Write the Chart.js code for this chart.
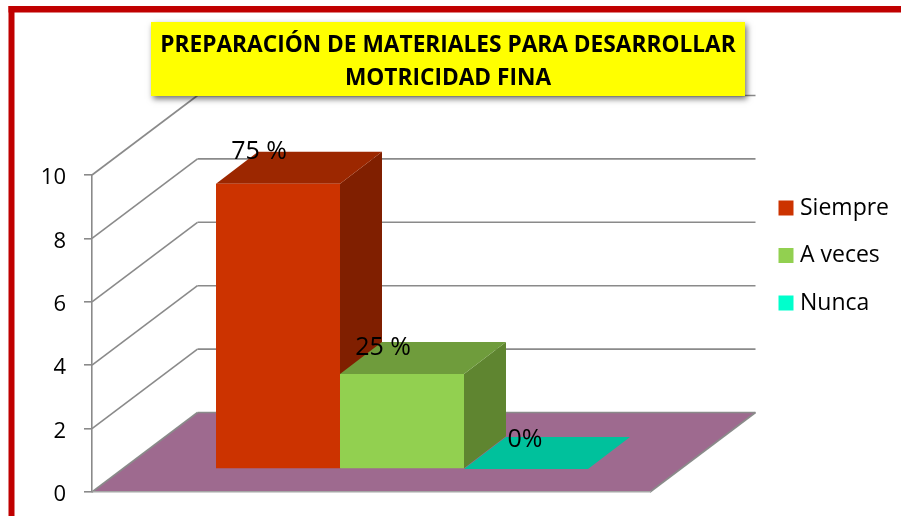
<!DOCTYPE html>
<html>
<head>
<meta charset="utf-8">
<style>html,body{margin:0;padding:0;background:#fff}canvas{display:block}</style>
<script src="https://cdn.jsdelivr.net/npm/chart.js@4"></script>
</head>
<body>
<canvas id="c" width="901" height="516"></canvas>
<script>
const categories = [''];
const seriesNames = ['Siempre', 'A veces', 'Nunca'];
const siempre = [9];
const aVeces = [3];
const nunca = [0];
const percentLabels = ['75 %', '25 %', '0%'];
const titleLines = ['PREPARACIÓN DE MATERIALES PARA DESARROLLAR', 'MOTRICIDAD FINA'];
const yTicks = [0, 2, 4, 6, 8, 10];

const FONT = '"Open Sans"';
const GRID = '#8a8a8a';
const frontColors = ['#CC3300', '#92D050', '#00FFCC'];
const topColors = ['#9C2700', '#6F9C3C', '#00C19C'];
const sideColors = ['#801F00', '#5F8530', '#00C19C'];
const wall = {dx: 105.5, dy: -79.5};
const barShift = {dx: 31, dy: -23};
const barDepth = {dx: 42, dy: -32};
const labelOffsets = [{x: -19, y: -32}, {x: -19, y: -26}, {x: -1, y: -29}];

function poly(ctx, pts, fill) {
  ctx.beginPath();
  pts.forEach((p, i) => i ? ctx.lineTo(p[0], p[1]) : ctx.moveTo(p[0], p[1]));
  ctx.closePath();
  ctx.fillStyle = fill;
  ctx.fill();
}
function line(ctx, x1, y1, x2, y2) {
  ctx.beginPath(); ctx.moveTo(x1, y1); ctx.lineTo(x2, y2); ctx.stroke();
}

const scene = {
  id: 'scene',
  beforeLayout(chart) {
    const lg = chart.legend;
    if (!lg._fitPatched) {
      const fit = lg.fit;
      lg.fit = function () { fit.call(this); this.width = 251; };
      lg._fitPatched = true;
    }
  },
  afterLayout(chart) {
    const lg = chart.legend;
    const w = lg.width, h = lg.height;
    lg.left = 759; lg.right = 759 + w;
    lg.top = 172; lg.bottom = 172 + h;
    chart.titleBlock.right = 896;
  },
  beforeDraw(chart) {
    const {ctx, chartArea: a, scales: {y}} = chart;
    ctx.save();
    ctx.fillStyle = '#fff';
    ctx.fillRect(0, 0, chart.width, chart.height);
    // outer frame
    ctx.fillStyle = '#C00000';
    ctx.fillRect(8.5, 6, chart.width, 6.5);
    ctx.fillRect(8.5, 6, 6, chart.height);
    // floor
    const y0 = y.getPixelForValue(0);
    poly(ctx, [[a.left, y0], [a.right, y0], [a.right + wall.dx, y0 + wall.dy], [a.left + wall.dx, y0 + wall.dy]], '#9E6A8F');
    // side wall + back wall grid lines
    ctx.strokeStyle = GRID;
    ctx.lineWidth = 1.6;
    yTicks.forEach(v => {
      const py = y.getPixelForValue(v);
      line(ctx, a.left, py, a.left + wall.dx, py + wall.dy);
      line(ctx, a.left + wall.dx, py + wall.dy, a.right + wall.dx, py + wall.dy);
    });
    line(ctx, a.right, y0, a.right + wall.dx, y0 + wall.dy);
    // title plate
    ctx.save();
    ctx.shadowColor = 'rgba(0,0,0,0.55)';
    ctx.shadowBlur = 6;
    ctx.shadowOffsetX = 2;
    ctx.shadowOffsetY = 3;
    ctx.fillStyle = '#FFFF00';
    ctx.fillRect(151, 22, 594, 74);
    ctx.restore();
    ctx.restore();
  },
  beforeDatasetsDraw(chart) {
    const {ctx} = chart;
    ctx.save();
    chart.data.datasets.forEach((ds, i) => {
      const el = chart.getDatasetMeta(i).data[0];
      const l = el.x - el.width / 2 + barShift.dx;
      const r = el.x + el.width / 2 + barShift.dx;
      const t = el.y + barShift.dy;
      const b = el.base + barShift.dy;
      const d = barDepth;
      poly(ctx, [[r, t], [r + d.dx, t + d.dy], [r + d.dx, b + d.dy], [r, b]], sideColors[i]);
      poly(ctx, [[l, t], [r, t], [r + d.dx, t + d.dy], [l + d.dx, t + d.dy]], topColors[i]);
    });
    ctx.restore();
  },
  beforeDatasetDraw(chart) {
    chart.ctx.save();
    chart.ctx.translate(barShift.dx, barShift.dy);
  },
  afterDatasetDraw(chart) {
    chart.ctx.restore();
  },
  afterDatasetsDraw(chart) {
    const {ctx} = chart;
    ctx.save();
    ctx.font = '25px ' + FONT;
    ctx.fillStyle = '#000';
    ctx.textAlign = 'center';
    ctx.textBaseline = 'middle';
    chart.data.datasets.forEach((ds, i) => {
      const el = chart.getDatasetMeta(i).data[0];
      ctx.fillText(percentLabels[i],
        el.x + barShift.dx + labelOffsets[i].x,
        el.y + barShift.dy + labelOffsets[i].y);
    });
    ctx.restore();
  }
};

new Chart(document.getElementById('c'), {
  type: 'bar',
  data: {
    labels: categories,
    datasets: [
      {label: seriesNames[0], data: siempre, backgroundColor: frontColors[0]},
      {label: seriesNames[1], data: aVeces, backgroundColor: frontColors[1]},
      {label: seriesNames[2], data: nunca, backgroundColor: frontColors[2]}
    ]
  },
  plugins: [scene],
  options: {
    responsive: false,
    animation: false,
    layout: {padding: {left: 0, top: 0, right: 0, bottom: 24}},
    datasets: {bar: {categoryPercentage: 2 / 3, barPercentage: 1, borderWidth: 0}},
    scales: {
      x: {
        ticks: {display: false},
        grid: {display: false},
        border: {color: '#a6a6a6', width: 1.6},
        afterFit(s) { s.height = 0; s.paddingLeft = 0; s.paddingRight = 0; }
      },
      y: {
        min: 0, max: 10,
        afterBuildTicks(s) { s.ticks = yTicks.map(v => ({value: v})); },
        ticks: {color: '#000', padding: 18, labelOffset: 3, font: {family: FONT, size: 22}},
        grid: {drawOnChartArea: false, color: GRID, tickLength: 8, lineWidth: 1.6},
        border: {color: GRID, width: 1.6},
        afterFit(s) { s.width = 92; s.paddingTop = 0; s.paddingBottom = 0; }
      }
    },
    plugins: {
      tooltip: {enabled: false},
      title: {
        display: true,
        text: titleLines,
        color: '#000',
        font: {family: FONT, size: 22.7, weight: 'bold', lineHeight: '33px'},
        padding: {top: 29, bottom: 80}
      },
      legend: {
        display: true,
        position: 'right',
        align: 'start',
        labels: {
          color: '#000',
          font: {family: FONT, size: 23},
          usePointStyle: true,
          pointStyle: 'rect',
          boxWidth: 5,
          boxHeight: 15,
          padding: 24.5
        }
      }
    }
  }
});
</script>
</body>
</html>
